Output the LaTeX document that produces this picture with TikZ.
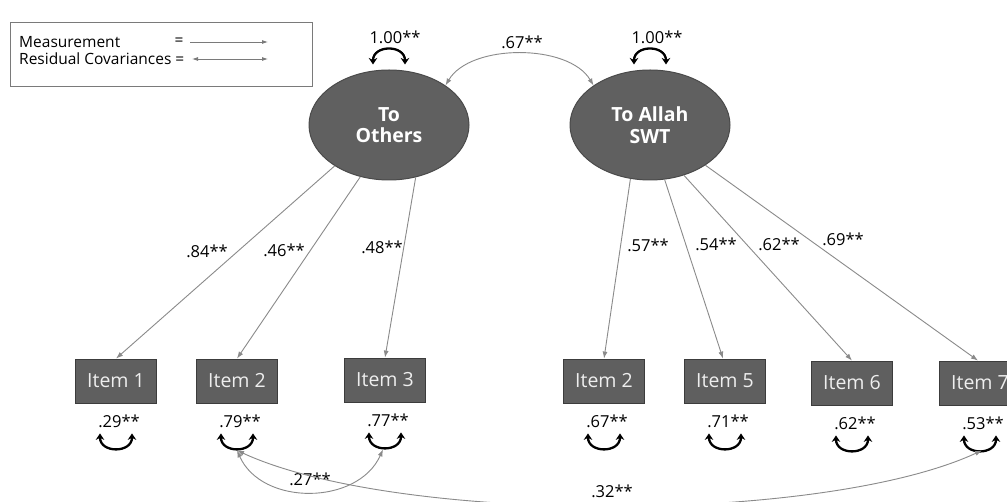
\documentclass[tikz,border=0pt]{standalone}
\usepackage{fontspec}
\setmainfont{Open Sans}
\usetikzlibrary{arrows.meta,shapes.geometric,calc}
\definecolor{latentfill}{HTML}{606060}
\definecolor{latentline}{HTML}{4A4A4A}
\definecolor{itemfill}{HTML}{5F5F5F}
\definecolor{itemline}{HTML}{3C3C3C}
\definecolor{itemtext}{HTML}{EEEEEE}
\definecolor{loadgray}{HTML}{8A8A8A}
\definecolor{legline}{HTML}{7A7A7A}
\begin{document}
\begin{tikzpicture}[x=1pt,y=-1pt,
  latent/.style={ellipse,draw=latentline,fill=latentfill,line width=1pt,minimum width=160pt,minimum height=110pt,inner sep=0pt,text=white,font=\fontsize{19.5}{21.5}\selectfont\bfseries,align=center},
  item/.style={rectangle,draw=itemline,fill=itemfill,line width=0.8pt,minimum width=81pt,minimum height=44pt,inner sep=0pt,text=itemtext,font=\fontsize{19.5}{21}\selectfont},
  load/.style={draw=loadgray,line width=0.9pt,-{Latex[length=7pt,width=5pt]}},
  cov/.style={draw=loadgray,line width=0.9pt,{Latex[length=7pt,width=5pt]}-{Latex[length=7pt,width=5pt]}},
  varloop/.style={draw=black,line width=2.3pt,{Stealth[length=6.5pt,width=8.5pt]}-{Stealth[length=6.5pt,width=8.5pt]}},
  lab/.style={font=\fontsize{16.5}{18}\selectfont,inner sep=0pt,text=black},
  legtext/.style={font=\fontsize{15.5}{17}\selectfont,inner sep=0pt,text=black},
  legarrow/.style={draw=legline,line width=0.8pt,-{Latex[length=6pt,width=4pt]}},
  legarrowb/.style={draw=legline,line width=0.8pt,{Latex[length=6pt,width=4pt]}-{Latex[length=6pt,width=4pt]}},
]
\useasboundingbox (0,0) rectangle (1007,502);
\clip (0,0) rectangle (1007,502);
\fill[white] (0,0) rectangle (1007,502);

% legend
\node[draw=legline,line width=0.8pt,minimum width=302pt,minimum height=64pt,anchor=north west,inner sep=0pt] (leg) at (10,22) {};
\node[legtext,anchor=west] (meas) at (19,42) {Measurement};
\node[legtext] (eqa) at (179,42) {=};
\node[legtext,anchor=west] (resc) at (19,59) {Residual Covariances =};
\coordinate (ma) at (190,42);
\coordinate (mb) at (268,42);
\coordinate (ra) at (192,59);
\coordinate (rb) at (268,59);
\draw[legarrow] (ma) -- (mb);
\draw[legarrowb] (ra) -- (rb);

% latent variables
\node[latent] (oth) at (389,125) {To\\Others};
\node[latent] (alh) at (650,125) {To Allah\\SWT};

% items
\node[item] (i1) at (116,381) {Item 1};
\node[item] (i2) at (237,381) {Item 2};
\node[item] (i3) at (385,380) {Item 3};
\node[item] (j2) at (604,381) {Item 2};
\node[item] (j5) at (725,381) {Item 5};
\node[item] (j6) at (852,383) {Item 6};
\node[item] (j7) at (980,383) {Item 7};

% loadings
\draw[load] (oth.217) -- (i1.north);
\draw[load] (oth.241) -- (i2.north);
\draw[load] (oth.297) -- (i3.north);
\draw[load] (alh.250) -- (j2.north);
\draw[load] (alh.285) -- ([xshift=-2pt]j5.north);
\draw[load] (alh.304) -- (j6.north);
\draw[load] (alh.324) -- ([xshift=-2pt]j7.north);

\node[lab] (l1) at (207,251) {.84**};
\node[lab] (l2) at (284,250) {.46**};
\node[lab] (l3) at (382,247) {.48**};
\node[lab] (l4) at (648,245) {.57**};
\node[lab] (l5) at (716,244) {.54**};
\node[lab] (l6) at (779,244) {.62**};
\node[lab] (l7) at (843,239) {.69**};

% latent variances
\draw[varloop] ([shift={(-16,-5)}]oth.north) .. controls +(0,-20) and +(0,-20) .. ([shift={(16,-5)}]oth.north);
\draw[varloop] ([shift={(-16,-5)}]alh.north) .. controls +(0,-20) and +(0,-20) .. ([shift={(16,-5)}]alh.north);
\node[lab] (v1) at (395,37) {1.00**};
\node[lab] (v2) at (657,37) {1.00**};

% latent covariance
\draw[cov] (oth.35) .. controls +(25,-42) and +(-25,-42) .. (alh.145);
\node[lab] (c0) at (522,42) {.67**};

% residual variances
\foreach \n/\v in {i1/.29**, i2/.79**, i3/.77**, j2/.67**, j5/.71**, j6/.62**, j7/.53**}{
  \draw[varloop] ([shift={(-16,30)}]\n.south) .. controls +(0,20) and +(0,20) .. ([shift={(16,30)}]\n.south);
  \node[lab] (r\n) at ([shift={(3,18)}]\n.south) {\v};
}

% residual covariances
\coordinate (e2) at ([shift={(0,47)}]i2.south);
\coordinate (e3) at ([shift={(-2,47)}]i3.south);
\coordinate (e7) at ([shift={(2,45)}]j7.south);
\draw[cov] (e2) .. controls +(25,56) and +(-25,56) .. (e3);
\node[lab] (c1) at (310,479) {.27**};
\draw[cov] (e2) .. controls +(160,74) and +(-160,74) .. (e7);
\node[lab] (c2) at (612,491) {.32**};
\end{tikzpicture}
\end{document}
